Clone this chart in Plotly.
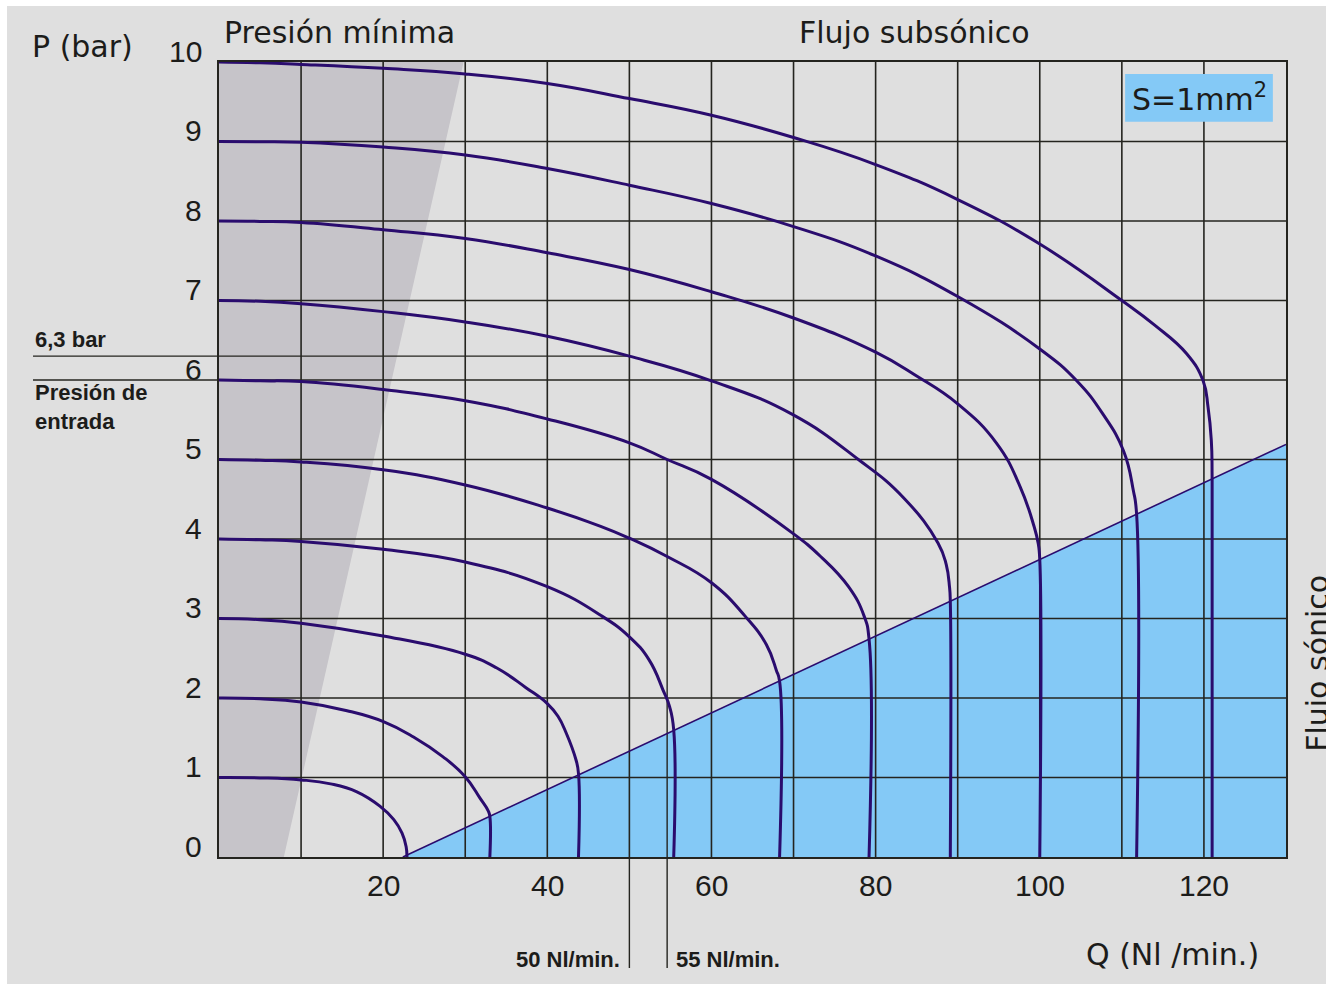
import plotly.graph_objects as go

# ---------------- data ----------------
inlet_pressures = [1, 2, 3, 4, 5, 6, 7, 8, 9, 10]

q_1 = [0, 5, 10, 13.6, 16.8, 19.6, 21.3, 22.3, 22.8, 22.9]
p_1 = [1.0, 0.995, 0.97, 0.92, 0.82, 0.64, 0.47, 0.30, 0.13, 0]

q_2 = [0, 5, 10, 15.6, 20.1, 23.7, 27.3, 30, 31.8, 32.8, 33.0, 33.0]
p_2 = [2.0, 1.99, 1.95, 1.84, 1.70, 1.51, 1.26, 1.01, 0.74, 0.58, 0.51, 0]

q_3 = [0, 5, 10, 20, 30, 33.8, 37.4, 40, 41.3, 42.3, 43.5, 43.8, 43.8]
p_3 = [3.0, 2.985, 2.94, 2.78, 2.55, 2.38, 2.13, 1.93, 1.77, 1.56, 1.22, 1.05, 0]

q_4 = [0, 5, 10, 20, 30, 40, 46.5, 50, 52.4, 54.1, 54.9, 55.4, 55.4]
p_4 = [4.0, 3.99, 3.97, 3.87, 3.71, 3.40, 3.04, 2.77, 2.48, 2.10, 1.89, 1.60, 0]

q_5 = [0, 5, 10, 20, 30, 40, 46.5, 50, 54.6, 60, 64.1, 66.7, 67.9, 68.3, 68.3]
p_5 = [5.0, 4.99, 4.97, 4.87, 4.68, 4.39, 4.16, 4.01, 3.78, 3.45, 3.03, 2.67, 2.35, 2.21, 0]

q_6 = [0, 5, 10, 20, 30, 40, 50, 54.6, 60, 69.8, 73.3, 76.7, 78.6, 79.2, 79.2]
p_6 = [6.0, 5.99, 5.98, 5.88, 5.74, 5.51, 5.21, 5.0, 4.75, 4.08, 3.78, 3.40, 3.03, 2.74, 0]

q_7 = [0, 5, 10, 20, 30, 40, 50, 60, 69.8, 77.9, 83.4, 87.6, 88.6, 89.0, 89.1, 89.1]
p_7 = [7.0, 6.99, 6.96, 6.86, 6.73, 6.55, 6.30, 5.99, 5.57, 5.0, 4.52, 3.95, 3.68, 3.40, 3.21, 0]

q_8 = [0, 5, 10, 20, 30, 40, 50, 60, 70, 80, 85, 90, 94.7, 97.6, 99.3, 99.8, 100, 100]
p_8 = [8.0, 7.995, 7.98, 7.89, 7.78, 7.60, 7.39, 7.11, 6.78, 6.35, 6.05, 5.70, 5.21, 4.66, 4.16, 3.95, 3.74, 0]

q_9 = [0, 5, 10, 20, 30, 40, 50, 60, 70, 80, 90, 100, 104.5, 107.7, 110.2, 111.4, 111.8, 111.8]
p_9 = [9.0, 8.997, 8.99, 8.93, 8.83, 8.66, 8.45, 8.22, 7.93, 7.56, 7.05, 6.39, 5.99, 5.57, 5.11, 4.61, 4.31, 0]

q_10 = [0, 5, 10, 20, 30, 40, 50, 60, 70, 80, 90, 100, 110, 114, 117.9, 119.9, 120.5, 120.9, 121.0, 121.0]
p_10 = [10.0, 9.99, 9.97, 9.92, 9.85, 9.73, 9.54, 9.33, 9.05, 8.71, 8.27, 7.71, 7.0, 6.69, 6.33, 5.99, 5.66, 5.24, 4.75, 0]

# sonic-flow boundary and minimum-pressure zone
sonic_q = [22.4, 130]
sonic_p = [0, 5.19]
min_zone_q = [0, 7.9, 29.8, 0]
min_zone_p = [0, 0, 10, 10]

# axes
x_grid = [10, 20, 30, 40, 50, 60, 70, 80, 90, 100, 110, 120]
y_grid = [1, 2, 3, 4, 5, 6, 7, 8, 9]
x_tick_vals = [20, 40, 60, 80, 100, 120]
x_tick_text = ["20", "40", "60", "80", "100", "120"]
y_tick_vals = [0, 1, 2, 3, 4, 5, 6, 7, 8, 9, 10]
y_tick_text = ["0", "1", "2", "3", "4", "5", "6", "7", "8", "9", "10"]
x_range = [0, 130]
y_range = [0, 10]

# reference example: 6.3 bar outlet from 7 bar inlet -> 50 Nl/min ; 5 bar from 6 bar -> 55 Nl/min
ref_outlet_p = 6.3
ref_inlet_p = 6
ref_q_a = 50
ref_q_b = 54.6
ref_q_b_top = 5

# box "S=1mm2"
box_q = [110.4, 128.4]
box_p = [9.25, 9.85]

# ---------------- styles ----------------
BG = "#dfdfdf"
SHADE = "#c6c4c9"
BLUE = "#84c9f6"
CURVE = "#2a0c6e"
GRID = "#24241f"
TXT = "#1c1c1a"
NUMFONT = "Liberation Sans, Arial, sans-serif"
WORDFONT = "DejaVu Sans, Liberation Sans, sans-serif"

curves_q = [q_1, q_2, q_3, q_4, q_5, q_6, q_7, q_8, q_9, q_10]
curves_p = [p_1, p_2, p_3, p_4, p_5, p_6, p_7, p_8, p_9, p_10]

fig = go.Figure()

fig.add_trace(go.Scatter(x=min_zone_q, y=min_zone_p, fill="toself", fillcolor=SHADE,
                         mode="lines", line=dict(width=0), hoverinfo="skip", showlegend=False))
fig.add_trace(go.Scatter(x=[sonic_q[0], sonic_q[1], sonic_q[1]], y=[sonic_p[0], sonic_p[1], 0],
                         fill="toself", fillcolor=BLUE, mode="lines", line=dict(width=0),
                         hoverinfo="skip", showlegend=False))

gx, gy = [], []
for v in x_grid:
    gx += [v, v, None]
    gy += [y_range[0], y_range[1], None]
for v in y_grid:
    gx += [x_range[0], x_range[1], None]
    gy += [v, v, None]
fig.add_trace(go.Scatter(x=gx, y=gy, mode="lines", line=dict(color=GRID, width=1.6),
                         hoverinfo="skip", showlegend=False))

# 6.3 bar line inside plot
fig.add_trace(go.Scatter(x=[x_range[0], ref_q_a], y=[ref_outlet_p, ref_outlet_p], mode="lines",
                         line=dict(color=GRID, width=1.4), hoverinfo="skip", showlegend=False))
# 55 Nl/min line inside plot
fig.add_trace(go.Scatter(x=[ref_q_b, ref_q_b], y=[ref_q_b_top, 0], mode="lines",
                         line=dict(color=GRID, width=1.4), hoverinfo="skip", showlegend=False))

fig.add_trace(go.Scatter(x=sonic_q, y=sonic_p, mode="lines", line=dict(color=CURVE, width=1.6),
                         hoverinfo="skip", showlegend=False))

for p1, q, p in zip(inlet_pressures, curves_q, curves_p):
    fig.add_trace(go.Scatter(x=q, y=p, mode="lines", name=f"{p1} bar",
                             line=dict(color=CURVE, width=3, shape="spline", smoothing=1.3,
                                       simplify=False),
                             showlegend=False))

# shapes outside plot area
LBL_X = -0.1743   # left end of the side lines (paper)
BELOW = -0.1396   # lower end of the Q reference lines (paper)
shapes = [
    dict(type="line", xref="paper", yref="y", x0=LBL_X, x1=0, y0=ref_outlet_p, y1=ref_outlet_p,
         line=dict(color=GRID, width=1.4)),
    dict(type="line", xref="paper", yref="y", x0=LBL_X, x1=0, y0=ref_inlet_p, y1=ref_inlet_p,
         line=dict(color=GRID, width=1.4)),
    dict(type="line", xref="x", yref="paper", x0=ref_q_a, x1=ref_q_a, y0=BELOW, y1=0,
         line=dict(color=GRID, width=1.4)),
    dict(type="line", xref="x", yref="paper", x0=ref_q_b, x1=ref_q_b, y0=BELOW, y1=0,
         line=dict(color=GRID, width=1.4)),
    dict(type="rect", xref="x", yref="y", x0=box_q[0], x1=box_q[1], y0=box_p[0], y1=box_p[1],
         fillcolor=BLUE, line=dict(width=0), layer="above"),
]

ann = []
for v, t in zip(y_tick_vals, y_tick_text):
    ann.append(dict(xref="paper", yref="y", x=0, y=v, text=t, xanchor="right", yanchor="middle",
                    xshift=-15, yshift=11, showarrow=False, font=dict(size=30, color=TXT, family=NUMFONT)))
for v, t in zip(x_tick_vals, x_tick_text):
    ann.append(dict(xref="x", yref="paper", x=v, y=0, text=t, xanchor="center", yanchor="middle",
                    yshift=-28, showarrow=False, font=dict(size=30, color=TXT, family=NUMFONT)))

big = dict(size=30, color=TXT, family=WORDFONT)
small = dict(size=22, color=TXT, family=NUMFONT, weight="bold")
ann += [
    dict(xref="paper", yref="paper", x=-0.177, y=1.019, text="P (bar)", xanchor="left",
         yanchor="middle", showarrow=False, font=big),
    dict(xref="paper", yref="paper", x=0.113, y=1.037, text="Presión mínima", xanchor="center",
         yanchor="middle", showarrow=False, font=big),
    dict(xref="paper", yref="paper", x=0.652, y=1.037, text="Flujo subsónico", xanchor="center",
         yanchor="middle", showarrow=False, font=big),
    dict(xref="x", yref="y", x=(box_q[0] + box_q[1]) / 2, y=(box_p[0] + box_p[1]) / 2,
         text="S=1mm<sup>2</sup>", xanchor="center", yanchor="middle", showarrow=False, font=big),
    dict(xref="paper", yref="paper", x=-0.1743, y=0.651, text="6,3 bar", xanchor="left",
         yanchor="middle", showarrow=False, font=small),
    dict(xref="paper", yref="paper", x=-0.1743, y=0.566, text="Presión de<br>entrada", xanchor="left",
         yanchor="middle", align="left", showarrow=False, font=small),
    dict(xref="x", yref="paper", x=ref_q_a, y=-0.129, text="50 Nl/min.", xanchor="right",
         yanchor="middle", xshift=-7, showarrow=False, font=small),
    dict(xref="x", yref="paper", x=ref_q_b, y=-0.129, text="55 Nl/min.", xanchor="left",
         yanchor="middle", xshift=7, showarrow=False, font=small),
    dict(xref="paper", yref="paper", x=0.894, y=-0.123, text="Q (Nl /min.)", xanchor="center",
         yanchor="middle", showarrow=False, font=big),
    dict(xref="paper", yref="paper", x=1.03, y=0.243, text="Flujo sónico", xanchor="center",
         yanchor="middle", textangle=-90, showarrow=False, font=big),
]

fig.update_layout(
    width=1319, height=978,
    margin=dict(l=212, r=40, t=56, b=127, pad=0),
    paper_bgcolor=BG, plot_bgcolor=BG,
    showlegend=False,
    shapes=shapes,
    annotations=ann,
    xaxis=dict(range=x_range, showgrid=False, zeroline=False, showticklabels=False, ticks="",
               showline=True, mirror=True, linecolor=GRID, linewidth=1.6, fixedrange=True),
    yaxis=dict(range=y_range, showgrid=False, zeroline=False, showticklabels=False, ticks="",
               showline=True, mirror=True, linecolor=GRID, linewidth=1.6, fixedrange=True),
)

fig.write_html("out.html", config={"displayModeBar": False},
               post_script="document.body.style.margin='6px 0 0 7px';"
                           "document.documentElement.style.overflow='hidden';"
                           "document.body.style.overflow='hidden';")
